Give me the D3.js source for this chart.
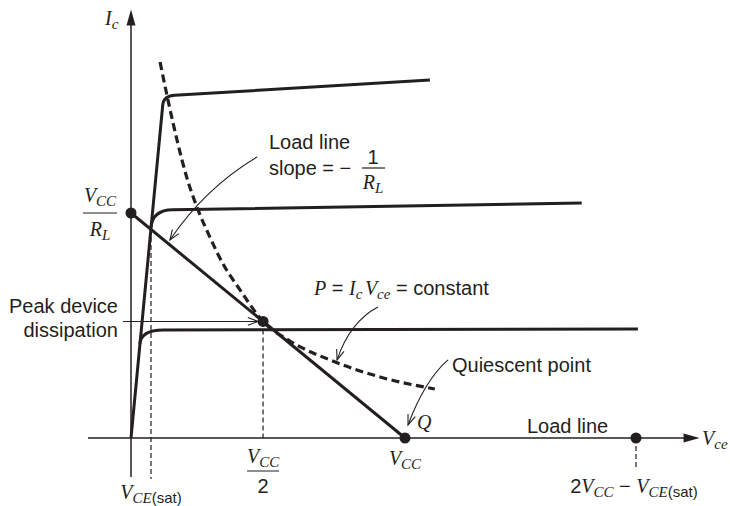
<!DOCTYPE html>
<html>
<head>
<meta charset="utf-8">
<script src="https://cdn.jsdelivr.net/npm/d3@7"></script>
<style>
  html, body { margin: 0; padding: 0; background: #fff; }
  svg { display: block; }
  text { white-space: pre; }
</style>
</head>
<body>
<svg id="chart" width="730" height="506"></svg>
<script>
// ---- Data (voltage in tenths of VCC, current in tenths of VCC/RL) ----
const vcc = 10;                 // supply voltage, load-line end on the Vce axis
const icMax = 10;               // VCC / RL, load-line end on the Ic axis
const vceSat = 0.73;            // VCE(sat)
const peakPoint = [4.82, 5.18]; // point of peak device dissipation
const vceEnd = 18.43;           // 2VCC − VCE(sat)
const markerPoints = [[0, icMax], peakPoint, [vcc, 0], [vceEnd, 0]];

// Output characteristics: knee on the saturation line, far end of each curve
const curveKnees = [[1.19, 15.2], [0.79, 10.13], [0.37, 4.8]];
const curveEnds  = [[10.91, 15.91], [16.45, 10.44], [18.5, 4.84]];

// Constant-power curve P = Ic·Vce
const dissipationCurve = [
  [1.06, 16.71], [1.35, 15.02], [1.68, 13.24], [2.04, 11.56], [2.45, 10.13],
  [2.88, 8.93], [3.32, 7.82], [3.98, 6.58], [4.82, 5.18], [5.8, 4.31],
  [7.45, 3.38], [9.09, 2.71], [11.09, 2.18]
];

// Axis extents
const xAxisExtent = [-1.57, 20.75];
const yAxisExtent = [-1.73, 19.05];

// ---- Drawing ----
const ink = "#231f20";
const serif = "'Liberation Serif', 'Times New Roman', Times, serif";
const sans = "'Liberation Sans', Arial, Helvetica, sans-serif";

const svg = d3.select("#chart");
const x = d3.scaleLinear().domain([0, vcc]).range([131, 405]);
const y = d3.scaleLinear().domain([0, icMax]).range([438, 213]);
const P = d => [x(d[0]), y(d[1])];

// Axes with filled arrowheads
const ox = x(0), oy = y(0);
const xTip = x(xAxisExtent[1]), yTip = y(yAxisExtent[1]);
svg.append("line")
  .attr("x1", x(xAxisExtent[0])).attr("y1", oy).attr("x2", xTip - 8).attr("y2", oy)
  .attr("stroke", ink).attr("stroke-width", 1.5);
svg.append("line")
  .attr("x1", ox).attr("y1", y(yAxisExtent[0])).attr("x2", ox).attr("y2", yTip + 8)
  .attr("stroke", ink).attr("stroke-width", 1.5);
svg.append("path")
  .attr("d", `M${xTip},${oy} L${xTip - 16},${oy - 4.5} L${xTip - 16},${oy + 4.5} Z`)
  .attr("fill", ink);
svg.append("path")
  .attr("d", `M${ox},${yTip} L${ox - 4.5},${yTip + 16} L${ox + 4.5},${yTip + 16} Z`)
  .attr("fill", ink);

// Thin dashed guide lines
const guides = [
  [[vceSat, 8.93], [vceSat, -1.82]],
  [peakPoint, [peakPoint[0], 0]],
  [[vceEnd, 0], [vceEnd, -1.33]]
];
svg.selectAll(".guide").data(guides).join("line").attr("class", "guide")
  .attr("x1", d => x(d[0][0])).attr("y1", d => y(d[0][1]))
  .attr("x2", d => x(d[1][0])).attr("y2", d => y(d[1][1]))
  .attr("stroke", ink).attr("stroke-width", 1.2).attr("stroke-dasharray", "5,3");

// Characteristic curves: steep saturation region, rounded knee, flat active region
const kneeRadii = [[9, 11], [17, 20], [14, 22]];
const unit = (a, b) => { const dx = b[0] - a[0], dy = b[1] - a[1], l = Math.hypot(dx, dy); return [dx / l, dy / l]; };
curveKnees.forEach((k, i) => {
  const O = P([0, 0]), C = P(k), E = P(curveEnds[i]);
  const u1 = unit(O, C), u2 = unit(C, E);
  const [r1, r2] = kneeRadii[i];
  const A = [C[0] - u1[0] * r1, C[1] - u1[1] * r1];
  const B = [C[0] + u2[0] * r2, C[1] + u2[1] * r2];
  const p = d3.path();
  if (i === 0) { p.moveTo(O[0], O[1]); p.lineTo(A[0], A[1]); }
  else p.moveTo(A[0], A[1]);
  p.quadraticCurveTo(C[0], C[1], B[0], B[1]);
  p.lineTo(E[0], E[1]);
  svg.append("path").attr("d", p.toString())
    .attr("fill", "none").attr("stroke", ink).attr("stroke-width", 3)
    .attr("stroke-linejoin", "round");
});

// Load line
svg.append("line")
  .attr("x1", x(0)).attr("y1", y(icMax)).attr("x2", x(vcc)).attr("y2", y(0))
  .attr("stroke", ink).attr("stroke-width", 3);

// Constant-power curve
const powerLine = d3.line().x(d => x(d[0])).y(d => y(d[1])).curve(d3.curveMonotoneX);
svg.append("path").datum(dissipationCurve).attr("d", powerLine)
  .attr("fill", "none").attr("stroke", ink).attr("stroke-width", 3.2)
  .attr("stroke-dasharray", "8,4.5");

// Marked points
svg.selectAll(".pt").data(markerPoints).join("circle").attr("class", "pt")
  .attr("cx", d => x(d[0])).attr("cy", d => y(d[1])).attr("r", 5.5).attr("fill", ink);

// Leader lines with open arrowheads
const leaders = [
  { from: [4.6, 12.49], via: [2.7, 11.11], to: [1.42, 8.8] },
  { from: [-0.29, 5.18], via: null, to: [4.64, 5.18] },
  { from: [9.01, 5.82], via: [7.99, 5.16], to: [7.52, 3.47] },
  { from: [11.57, 3.47], via: [10.73, 2.58], to: [10.11, 0.58] }
];
leaders.forEach(l => {
  const F = P(l.from), T = P(l.to), V = l.via ? P(l.via) : null;
  const p = d3.path();
  p.moveTo(F[0], F[1]);
  if (V) p.quadraticCurveTo(V[0], V[1], T[0], T[1]); else p.lineTo(T[0], T[1]);
  svg.append("path").attr("d", p.toString())
    .attr("fill", "none").attr("stroke", ink).attr("stroke-width", 1.1);
  const back = V || F;
  const ang = Math.atan2(T[1] - back[1], T[0] - back[0]);
  const len = 11, spread = 0.36;
  const a1 = [T[0] - len * Math.cos(ang - spread), T[1] - len * Math.sin(ang - spread)];
  const a2 = [T[0] - len * Math.cos(ang + spread), T[1] - len * Math.sin(ang + spread)];
  svg.append("path").attr("d", `M${a1[0]},${a1[1]} L${T[0]},${T[1]} L${a2[0]},${a2[1]}`)
    .attr("fill", "none").attr("stroke", ink).attr("stroke-width", 1.1);
});

// Mixed-font text helper: parts are {t, f: "i" (italic serif) | "s" (sans), s: size, sub}
function rich(x0, y0, parts, anchor = "start") {
  const t = svg.append("text").attr("x", x0).attr("y", y0)
    .attr("text-anchor", anchor).attr("fill", ink);
  let shift = 0;
  parts.forEach(p => {
    const s = t.append("tspan").text(p.t)
      .attr("font-family", p.f === "i" ? serif : sans)
      .attr("font-style", p.f === "i" ? "italic" : "normal")
      .attr("font-size", p.s || 20);
    const target = p.sub ? 3.5 : 0;
    if (target !== shift) { s.attr("dy", target - shift); shift = target; }
  });
  return t;
}
const bar = (x1, x2, yy) => svg.append("line")
  .attr("x1", x1).attr("x2", x2).attr("y1", yy).attr("y2", yy)
  .attr("stroke", ink).attr("stroke-width", 1.2);

const Vcc = [{ t: "V", f: "i" }, { t: "CC", f: "i", s: 15, sub: 1 }];
const Vcesat = [{ t: "V", f: "i" }, { t: "CE", f: "i", s: 15, sub: 1 }, { t: "(sat)", f: "s", s: 15, sub: 1 }];
const RL = [{ t: "R", f: "i" }, { t: "L", f: "i", s: 15, sub: 1 }];

// Axis titles
rich(105, 25, [{ t: "I", f: "i" }, { t: "c", f: "i", s: 15, sub: 1 }]);
rich(702, 445, [{ t: "V", f: "i" }, { t: "ce", f: "i", s: 15, sub: 1 }]);

// VCC / RL on the current axis
rich(100, 202, Vcc, "middle");
bar(83, 117, 213);
rich(100, 236, RL, "middle");

// Load line slope note
rich(269, 149, [{ t: "Load line", f: "s" }]);
rich(269, 175, [{ t: "slope = −", f: "s" }]);
rich(373, 164, [{ t: "1", f: "s" }], "middle");
bar(362, 385, 168);
rich(373, 189, RL, "middle");

// Peak device dissipation
rich(118, 313, [{ t: "Peak device", f: "s" }], "end");
rich(118, 337, [{ t: "dissipation", f: "s" }], "end");

// Constant power
rich(314, 295, [
  { t: "P", f: "i" }, { t: " = ", f: "s" }, { t: "I", f: "i" }, { t: "c", f: "i", s: 15, sub: 1 },
  { t: " ", f: "s", s: 9 }, { t: "V", f: "i" }, { t: "ce", f: "i", s: 15, sub: 1 }, { t: " = constant", f: "s" }
]);

// Quiescent point and Q
rich(452, 372, [{ t: "Quiescent point", f: "s" }]);
rich(417, 429, [{ t: "Q", f: "i" }]);
rich(527, 433, [{ t: "Load line", f: "s" }]);

// Voltage-axis labels
rich(x(vcc), 465, Vcc, "middle");
rich(x(peakPoint[0]), 463, Vcc, "middle");
bar(x(peakPoint[0]) - 16, x(peakPoint[0]) + 16, 471);
rich(x(peakPoint[0]), 493, [{ t: "2", f: "s" }], "middle");
rich(x(vceSat), 499, Vcesat, "middle");
rich(x(vceEnd) - 2, 493, [{ t: "2", f: "s" }, ...Vcc, { t: " − ", f: "s" }, ...Vcesat], "middle");
</script>
</body>
</html>
